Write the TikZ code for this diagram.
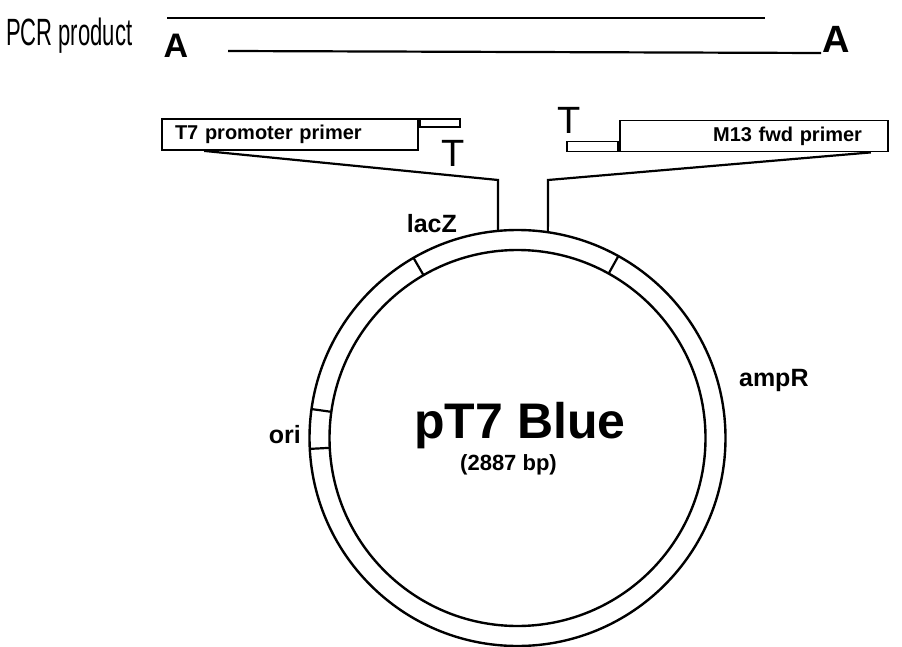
\documentclass[tikz,border=0pt]{standalone}
\usepackage{fontspec}
\setmainfont{Liberation Sans}
\newfontfamily\narrowfont{Liberation Sans}[FakeStretch=0.58]
\usetikzlibrary{positioning,calc}
\tikzset{
  every picture/.style={line width=2.2pt},
  primer/.style={draw, line width=1.8pt, minimum height=31pt, inner ysep=0pt, font=\fontsize{20}{22}\selectfont\bfseries},
  strand/.style={draw, line width=1.8pt, inner sep=0pt},
  base/.style={inner sep=0pt, font=\fontsize{38}{38}\selectfont},
  baseA/.style={inner sep=0pt, font=\fontsize{34}{34}\selectfont\bfseries},
  lbl/.style={inner sep=0pt, font=\fontsize{25}{28}\selectfont\bfseries},
  ring/.style={line width=2.4pt},
  tick/.style={line width=2.2pt},
}

\begin{document}
\begin{tikzpicture}[x=1pt, y=-1pt]
  \useasboundingbox (0,0) rectangle (902,647);
  % PCR product
  \node[inner sep=0pt, anchor=base west, font=\fontsize{38}{38}\narrowfont] (pcr) at (5,46) {PCR product};
  \node[baseA, anchor=base] (aleft) at (176,58) {A};
  \node[baseA, anchor=base, font=\fontsize{38}{38}\selectfont\bfseries] (aright) at (836,53) {A};
  \coordinate (top1) at (167,18);
  \coordinate (top2) at (765,18);
  \coordinate (bot1) at (228,51);
  \draw (top1) -- (top2);
  \draw (bot1) -- (aright.base west);
  % primers
  \node[primer, text width=230pt, inner xsep=13pt, align=left] (t7) at (290,134.5) {T7 promoter primer};
  \node[strand, minimum width=40pt, minimum height=8pt, anchor=north west] (sl) at (t7.north east) {};
  \node[base, anchor=north] (tl) at ($(sl.south east)+(-8,11)$) {T};
  \node[primer, text width=216pt, inner xsep=26pt, align=right] (m13) at (754,136) {M13 fwd primer};
  \node[strand, minimum width=51pt, minimum height=10pt, anchor=south east] (sr) at (m13.south west) {};
  \node[base, anchor=south] (tr) at ($(sr.north west)+(3,-6)$) {T};
  % plasmid
  \coordinate (c) at (517.5,438);
  \draw[ring] (c) circle[radius=208];
  \draw[ring] (c) circle[radius=188];
  \coordinate (gl) at (498,180);
  \coordinate (gr) at (548,180);
  \draw ($(t7.south west)+(43,0)$) -- (gl) -- ($(c)+(-95.4:208)$);
  \draw ($(m13.south east)+(-18,0)$) -- (gr) -- ($(c)+(-81.6:208)$);
  \draw[tick] ($(c)+(-120:188)$) -- ($(c)+(-120:208)$);
  \draw[tick] ($(c)+(-61:188)$) -- ($(c)+(-61:208)$);
  \draw[tick] ($(c)+(188:188)$) -- ($(c)+(188:208)$);
  \draw[tick] ($(c)+(177:188)$) -- ($(c)+(177:208)$);
  % labels
  \node[lbl, anchor=base east] (lacz) at (458,233) {lacZ};
  \node[lbl, anchor=base east] (ori) at (302,443) {ori};
  \node[lbl, anchor=base west] (ampr) at (738,386) {ampR};
  \node[inner sep=0pt, anchor=base, font=\fontsize{50}{50}\selectfont\bfseries] (name) at (520,438) {pT7 Blue};
  \node[inner sep=0pt, anchor=base, font=\fontsize{22}{24}\selectfont\bfseries] (size) at (508.5,470) {(2887 bp)};
\end{tikzpicture}
\end{document}
